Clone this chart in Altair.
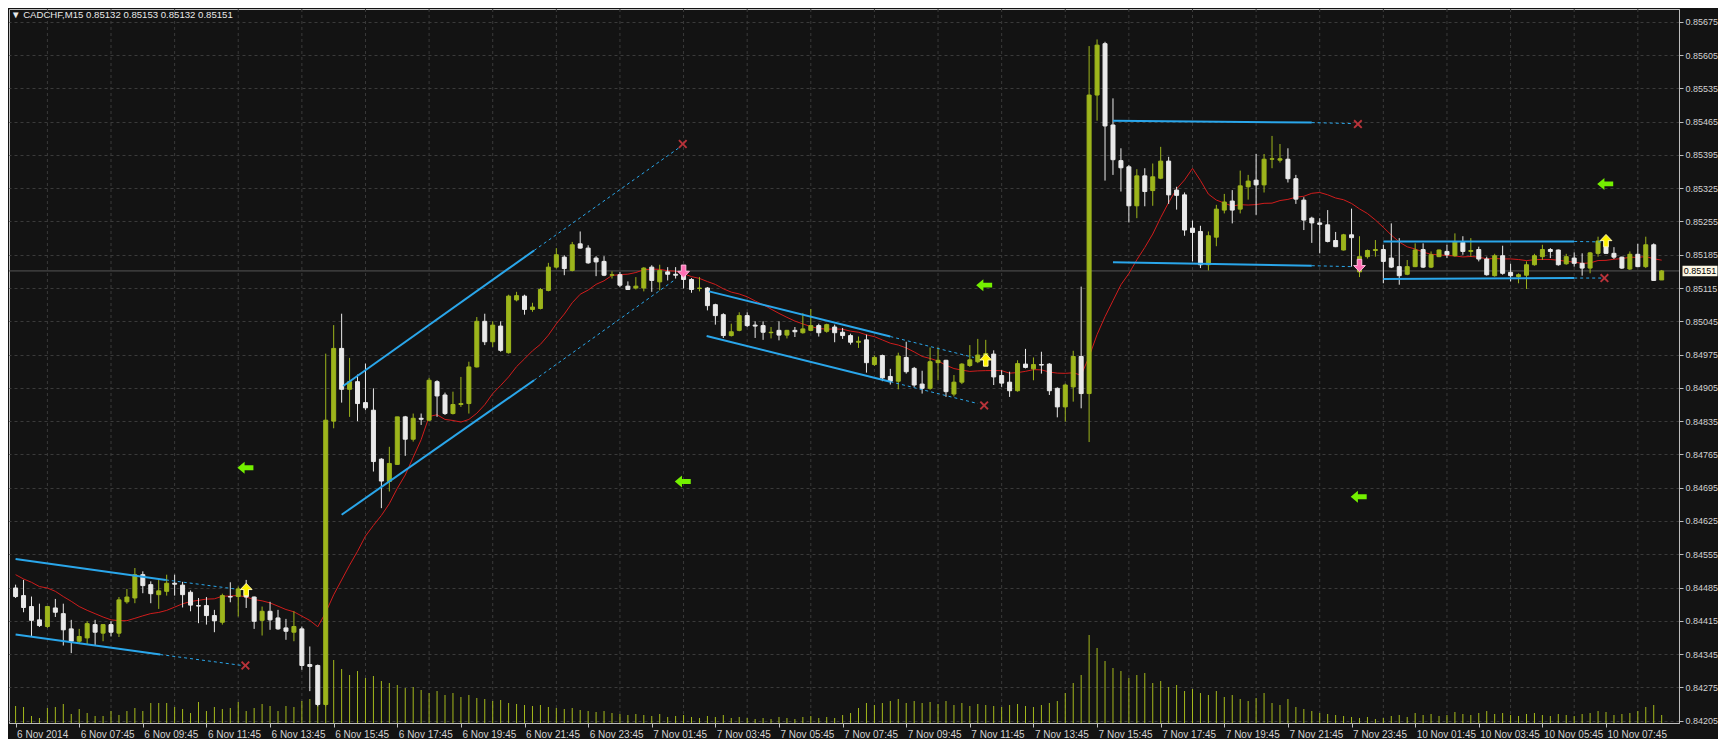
import json
import altair as alt
import pandas as pd

# ---------------- data ----------------
opens = [
    0.84484, 0.84468, 0.84445, 0.84417, 0.84403, 0.84442, 0.84430, 0.84398, 0.84372, 0.84379,
    0.84407, 0.84389, 0.84407, 0.84389, 0.84455, 0.84463, 0.84512, 0.84491, 0.84470, 0.84477,
    0.84494, 0.84490, 0.84475, 0.84447, 0.84447, 0.84426, 0.84412, 0.84466, 0.84466, 0.84482,
    0.84465, 0.84416, 0.84435, 0.84421, 0.84400, 0.84391, 0.84398, 0.84323, 0.84321, 0.84239,
    0.84835, 0.84988, 0.84902, 0.84918, 0.84874, 0.84858, 0.84755, 0.84708, 0.84744, 0.84844,
    0.84797, 0.84841, 0.84837, 0.84918, 0.84890, 0.84851, 0.84870, 0.84872, 0.84949, 0.85045,
    0.85002, 0.85035, 0.84979, 0.85090, 0.85098, 0.85070, 0.85072, 0.85110, 0.85159, 0.85180,
    0.85152, 0.85208, 0.85199, 0.85178, 0.85171, 0.85142, 0.85143, 0.85119, 0.85115, 0.85115,
    0.85159, 0.85128, 0.85149, 0.85144, 0.85142, 0.85133, 0.85114, 0.85115, 0.85080, 0.85059,
    0.85015, 0.85026, 0.85057, 0.85037, 0.85036, 0.85021, 0.85026, 0.85016, 0.85026, 0.85021,
    0.85026, 0.85036, 0.85024, 0.85033, 0.85022, 0.85015, 0.85001, 0.85006, 0.84954, 0.84973,
    0.84929, 0.84919, 0.84969, 0.84946, 0.84913, 0.84904, 0.84958, 0.84963, 0.84892, 0.84917,
    0.84952, 0.84960, 0.84969, 0.84976, 0.84931, 0.84917, 0.84899, 0.84955, 0.84945, 0.84954,
    0.84955, 0.84904, 0.84865, 0.84907, 0.84971, 0.84893, 0.85521, 0.85629, 0.85458, 0.85383,
    0.85370, 0.85288, 0.85351, 0.85320, 0.85346, 0.85382, 0.85321, 0.85311, 0.85241, 0.85234,
    0.85164, 0.85222, 0.85279, 0.85298, 0.85281, 0.85328, 0.85342, 0.85332, 0.85386, 0.85384,
    0.85386, 0.85345, 0.85300, 0.85262, 0.85252, 0.85248, 0.85215, 0.85195, 0.85227, 0.85149,
    0.85181, 0.85194, 0.85196, 0.85178, 0.85160, 0.85144, 0.85160, 0.85196, 0.85159, 0.85181,
    0.85192, 0.85183, 0.85211, 0.85192, 0.85196, 0.85176, 0.85141, 0.85183, 0.85148, 0.85139,
    0.85142, 0.85164, 0.85181, 0.85196, 0.85195, 0.85166, 0.85178, 0.85167, 0.85157, 0.85188,
    0.85220, 0.85188, 0.85180, 0.85155, 0.85186, 0.85160, 0.85206, 0.85132,
]
highs = [
    0.84491, 0.84501, 0.84466, 0.84451, 0.84445, 0.84461, 0.84451, 0.84417, 0.84398, 0.84414,
    0.84417, 0.84407, 0.84414, 0.84465, 0.84482, 0.84526, 0.84519, 0.84498, 0.84503, 0.84512,
    0.84512, 0.84497, 0.84479, 0.84463, 0.84465, 0.84438, 0.84472, 0.84496, 0.84487, 0.84501,
    0.84466, 0.84445, 0.84455, 0.84438, 0.84419, 0.84435, 0.84403, 0.84361, 0.84323, 0.84977,
    0.85037, 0.85061, 0.84968, 0.84933, 0.84956, 0.84904, 0.84757, 0.84781, 0.84844, 0.84846,
    0.84851, 0.84851, 0.84926, 0.84921, 0.84895, 0.84897, 0.84928, 0.84960, 0.85054, 0.85061,
    0.85045, 0.85045, 0.85101, 0.85107, 0.85101, 0.85084, 0.85115, 0.85168, 0.85199, 0.85184,
    0.85212, 0.85234, 0.85205, 0.85182, 0.85182, 0.85150, 0.85149, 0.85129, 0.85138, 0.85159,
    0.85163, 0.85164, 0.85159, 0.85159, 0.85163, 0.85136, 0.85138, 0.85117, 0.85082, 0.85062,
    0.85040, 0.85064, 0.85064, 0.85045, 0.85045, 0.85033, 0.85045, 0.85027, 0.85033, 0.85062,
    0.85071, 0.85040, 0.85040, 0.85038, 0.85031, 0.85019, 0.85013, 0.85017, 0.84973, 0.84975,
    0.84945, 0.84979, 0.85002, 0.84949, 0.84941, 0.84990, 0.84990, 0.84964, 0.84932, 0.84957,
    0.84995, 0.85008, 0.85006, 0.84984, 0.84942, 0.84939, 0.84963, 0.84987, 0.84969, 0.84981,
    0.84957, 0.84906, 0.84914, 0.84983, 0.85118, 0.85624, 0.85638, 0.85633, 0.85514, 0.85409,
    0.85374, 0.85365, 0.85367, 0.85377, 0.85412, 0.85391, 0.85328, 0.85316, 0.85257, 0.85246,
    0.85234, 0.85290, 0.85313, 0.85321, 0.85362, 0.85353, 0.85397, 0.85397, 0.85435, 0.85418,
    0.85409, 0.85353, 0.85306, 0.85265, 0.85262, 0.85279, 0.85233, 0.85229, 0.85282, 0.85224,
    0.85196, 0.85216, 0.85206, 0.85251, 0.85220, 0.85174, 0.85209, 0.85209, 0.85192, 0.85196,
    0.85206, 0.85230, 0.85224, 0.85220, 0.85202, 0.85181, 0.85187, 0.85204, 0.85166, 0.85146,
    0.85171, 0.85187, 0.85206, 0.85199, 0.85196, 0.85187, 0.85190, 0.85188, 0.85191, 0.85223,
    0.85223, 0.85201, 0.85181, 0.85192, 0.85208, 0.85223, 0.85209, 0.85153,
]
lows = [
    0.84463, 0.84433, 0.84382, 0.84402, 0.84400, 0.84423, 0.84363, 0.84347, 0.84368, 0.84365,
    0.84363, 0.84372, 0.84382, 0.84381, 0.84451, 0.84452, 0.84473, 0.84452, 0.84440, 0.84468,
    0.84468, 0.84443, 0.84435, 0.84410, 0.84407, 0.84391, 0.84407, 0.84454, 0.84424, 0.84442,
    0.84398, 0.84384, 0.84396, 0.84396, 0.84375, 0.84372, 0.84312, 0.84267, 0.84235, 0.84235,
    0.84820, 0.84874, 0.84844, 0.84835, 0.84858, 0.84729, 0.84652, 0.84687, 0.84743, 0.84762,
    0.84792, 0.84827, 0.84835, 0.84844, 0.84848, 0.84849, 0.84865, 0.84851, 0.84948, 0.84995,
    0.84991, 0.84981, 0.84977, 0.85087, 0.85059, 0.85065, 0.85070, 0.85108, 0.85156, 0.85142,
    0.85150, 0.85198, 0.85166, 0.85140, 0.85140, 0.85135, 0.85117, 0.85111, 0.85112, 0.85108,
    0.85107, 0.85110, 0.85131, 0.85135, 0.85114, 0.85105, 0.85108, 0.85068, 0.85038, 0.85010,
    0.85013, 0.85024, 0.85033, 0.85010, 0.85006, 0.85009, 0.85005, 0.85009, 0.85012, 0.85019,
    0.85024, 0.85013, 0.85021, 0.85001, 0.85008, 0.84996, 0.84989, 0.84937, 0.84951, 0.84919,
    0.84912, 0.84902, 0.84935, 0.84907, 0.84893, 0.84901, 0.84921, 0.84886, 0.84887, 0.84913,
    0.84949, 0.84957, 0.84953, 0.84911, 0.84907, 0.84886, 0.84897, 0.84946, 0.84921, 0.84935,
    0.84890, 0.84843, 0.84834, 0.84876, 0.84862, 0.84791, 0.85467, 0.85341, 0.85353, 0.85318,
    0.85253, 0.85262, 0.85287, 0.85288, 0.85344, 0.85292, 0.85280, 0.85225, 0.85171, 0.85157,
    0.85152, 0.85203, 0.85272, 0.85251, 0.85272, 0.85301, 0.85269, 0.85316, 0.85367, 0.85379,
    0.85337, 0.85292, 0.85237, 0.85210, 0.85188, 0.85211, 0.85201, 0.85194, 0.85160, 0.85138,
    0.85177, 0.85181, 0.85125, 0.85157, 0.85122, 0.85142, 0.85159, 0.85157, 0.85157, 0.85180,
    0.85178, 0.85181, 0.85185, 0.85181, 0.85171, 0.85141, 0.85139, 0.85143, 0.85129, 0.85125,
    0.85113, 0.85162, 0.85174, 0.85178, 0.85162, 0.85164, 0.85160, 0.85141, 0.85146, 0.85181,
    0.85187, 0.85176, 0.85155, 0.85153, 0.85159, 0.85157, 0.85131, 0.85132,
]
closes = [
    0.84466, 0.84443, 0.84416, 0.84405, 0.84445, 0.84433, 0.84396, 0.84372, 0.84382, 0.84409,
    0.84391, 0.84407, 0.84391, 0.84459, 0.84465, 0.84512, 0.84489, 0.84472, 0.84478, 0.84494,
    0.84492, 0.84470, 0.84448, 0.84446, 0.84426, 0.84415, 0.84468, 0.84465, 0.84482, 0.84465,
    0.84414, 0.84435, 0.84417, 0.84398, 0.84393, 0.84403, 0.84321, 0.84319, 0.84239, 0.84837,
    0.84988, 0.84902, 0.84918, 0.84872, 0.84863, 0.84750, 0.84709, 0.84746, 0.84844, 0.84797,
    0.84841, 0.84839, 0.84921, 0.84888, 0.84851, 0.84870, 0.84872, 0.84949, 0.85045, 0.85002,
    0.85037, 0.84984, 0.85098, 0.85099, 0.85070, 0.85075, 0.85112, 0.85159, 0.85185, 0.85156,
    0.85206, 0.85199, 0.85168, 0.85170, 0.85142, 0.85143, 0.85121, 0.85112, 0.85119, 0.85157,
    0.85131, 0.85152, 0.85144, 0.85142, 0.85133, 0.85112, 0.85115, 0.85078, 0.85057, 0.85015,
    0.85023, 0.85057, 0.85036, 0.85035, 0.85022, 0.85022, 0.85016, 0.85026, 0.85023, 0.85029,
    0.85036, 0.85021, 0.85038, 0.85021, 0.85015, 0.85001, 0.85003, 0.84958, 0.84969, 0.84926,
    0.84919, 0.84972, 0.84939, 0.84911, 0.84904, 0.84960, 0.84963, 0.84897, 0.84917, 0.84955,
    0.84964, 0.84974, 0.84977, 0.84928, 0.84915, 0.84899, 0.84956, 0.84948, 0.84954, 0.84953,
    0.84899, 0.84865, 0.84911, 0.84971, 0.84893, 0.85521, 0.85626, 0.85456, 0.85385, 0.85368,
    0.85288, 0.85351, 0.85318, 0.85349, 0.85382, 0.85311, 0.85310, 0.85237, 0.85232, 0.85164,
    0.85225, 0.85281, 0.85296, 0.85279, 0.85330, 0.85340, 0.85332, 0.85386, 0.85387, 0.85387,
    0.85345, 0.85302, 0.85258, 0.85252, 0.85249, 0.85213, 0.85202, 0.85227, 0.85221, 0.85181,
    0.85194, 0.85196, 0.85171, 0.85159, 0.85141, 0.85160, 0.85195, 0.85159, 0.85185, 0.85195,
    0.85185, 0.85213, 0.85192, 0.85194, 0.85176, 0.85143, 0.85183, 0.85146, 0.85141, 0.85143,
    0.85164, 0.85183, 0.85196, 0.85192, 0.85164, 0.85181, 0.85167, 0.85157, 0.85189, 0.85214,
    0.85188, 0.85180, 0.85157, 0.85186, 0.85160, 0.85206, 0.85131, 0.85151,
]
volumes = [
    170, 160, 70, 50, 150, 160, 190, 90, 140, 100, 70, 70, 120, 80, 120, 150, 120, 200, 200, 200,
    160, 140, 100, 210, 120, 160, 140, 150, 210, 120, 150, 190, 170, 120, 170, 160, 220, 240, 200, 280,
    630, 540, 480, 520, 450, 470, 420, 400, 380, 350, 360, 330, 300, 320, 280, 300, 260, 280, 250, 240,
    220, 230, 200, 190, 180, 170, 180, 160, 150, 140, 150, 130, 120, 110, 120, 100, 90, 80, 90, 80,
    70, 90, 60, 70, 80, 60, 50, 70, 60, 80, 50, 60, 50, 40, 50, 40, 60, 50, 40, 60,
    70, 50, 60, 50, 80, 100, 150, 200, 180, 200, 220, 240, 200, 220, 200, 210, 190, 220, 180, 200,
    170, 190, 180, 170, 160, 180, 190, 170, 160, 180, 200, 220, 300, 400, 480, 880, 750, 620, 550, 520,
    450, 480, 500, 400, 420, 360, 380, 320, 340, 300, 280, 320, 260, 280, 240, 220, 250, 300, 200, 180,
    240, 160, 140, 120, 100, 90, 80, 70, 60, 50, 60, 40, 50, 70, 80, 60, 100, 80, 90, 70,
    80, 110, 90, 80, 100, 120, 90, 100, 80, 70, 90, 100, 80, 70, 90, 80, 70, 90, 100, 120,
    110, 80, 90, 100, 120, 160, 180, 80,
]
# moving average values read for the first bars (window not yet full on screen)
ma_head = [0.84512, 0.84503, 0.84496, 0.84487, 0.84484, 0.84477, 0.84466,
           0.84456, 0.84445, 0.84437, 0.84430, 0.84423, 0.84417]
ma_period = 14

tick_labels = [
    "6 Nov 2014", "6 Nov 07:45", "6 Nov 09:45", "6 Nov 11:45", "6 Nov 13:45", "6 Nov 15:45",
    "6 Nov 17:45", "6 Nov 19:45", "6 Nov 21:45", "6 Nov 23:45", "7 Nov 01:45", "7 Nov 03:45",
    "7 Nov 05:45", "7 Nov 07:45", "7 Nov 09:45", "7 Nov 11:45", "7 Nov 13:45", "7 Nov 15:45",
    "7 Nov 17:45", "7 Nov 19:45", "7 Nov 21:45", "7 Nov 23:45", "10 Nov 01:45", "10 Nov 03:45",
    "10 Nov 05:45", "10 Nov 07:45",
]
tick_index = list(range(0, 8 * len(tick_labels), 8))
price_ticks = [0.84205, 0.84275, 0.84345, 0.84415, 0.84485, 0.84555, 0.84625, 0.84695,
               0.84765, 0.84835, 0.84905, 0.84975, 0.85045, 0.85115, 0.85185, 0.85255,
               0.85325, 0.85395, 0.85465, 0.85535, 0.85605, 0.85675]
bid_price = 0.85151
header_text = "\u25BC CADCHF,M15  0.85132 0.85153 0.85132 0.85151"

# trend channels (bar index, price)
seg_x1 = [0, 0, 41.2, 41.0, 87.2, 86.9, 138, 138, 172, 172,
          18.9, 18.2, 65.2, 65.2, 110, 110, 163, 163, 196, 196]
seg_y1 = [0.84545, 0.84386, 0.84909, 0.84638, 0.85108, 0.85014, 0.85467, 0.85169, 0.85213, 0.85134,
          0.84501, 0.84344, 0.85194, 0.84921, 0.85013, 0.84918, 0.85463, 0.85162, 0.85213, 0.85136]
seg_x2 = [18.9, 18.2, 65.2, 65.2, 110, 110, 163, 163, 196, 196,
          27.6, 28.5, 83.5, 82.7, 120.5, 121, 168, 168, 199.5, 199.5]
seg_y2 = [0.84501, 0.84344, 0.85194, 0.84921, 0.85013, 0.84918, 0.85463, 0.85162, 0.85213, 0.85136,
          0.84482, 0.84321, 0.85411, 0.85130, 0.84969, 0.84872, 0.85461, 0.85160, 0.85212, 0.85136]
seg_kind = ["solid"] * 10 + ["dash"] * 10

cross_x = [28.9, 83.9, 121.8, 168.8, 199.8]
cross_y = [0.84321, 0.85418, 0.84868, 0.85460, 0.85136]
left_arrow_x = [28.9, 83.9, 121.8, 168.9, 199.9]
left_arrow_y = [0.84737, 0.84708, 0.85121, 0.84676, 0.85334]
up_arrow_x = [29, 122, 200]
up_arrow_y = [0.84480, 0.84963, 0.85214]
down_arrow_x = [84, 169]
down_arrow_y = [0.85151, 0.85163]

# ---------------- styling ----------------
BG = "#131313"
GRID = "#3a3a3a"
TXT = "#d2d2d2"
FRAME = "#bdbdbd"
BULL = "#9db51c"
BEAR = "#e9e9e9"
VOL = "#a4b81c"
MA_COL = "#d01c1c"
CHAN = "#2aa6ea"
XMARK = "#b8333a"
FONT = "Liberation Sans"

W, H = 1670, 714
n = len(closes)
df = pd.DataFrame({
    "i": list(range(n)), "o": opens, "h": highs, "l": lows, "c": closes, "v": volumes,
})
df["dir"] = ["up" if c >= o else "down" for o, c in zip(opens, closes)]
df["ma_head"] = ma_head + [None] * (n - len(ma_head))

XDOM = [-0.2, -0.2 + W / 8.0]
YDOM = [0.84200, 0.85702]

labels_js = json.dumps(tick_labels)
x_axis = alt.Axis(
    orient="bottom", values=tick_index,
    labelExpr=f"{labels_js}[round(datum.value / 8)]",
    labelAlign="left", labelOffset=1, labelPadding=2, labelOverlap=False,
    labelBound=False, labelFlush=False,
    labelFont=FONT, labelFontSize=10, labelColor=TXT,
    tickSize=4, tickColor=FRAME, grid=False,
    domain=True, domainColor=FRAME, title=None,
)
y_axis = alt.Axis(
    orient="right", values=price_ticks, format=".5f",
    labelFont=FONT, labelFontSize=9, labelColor=TXT, labelPadding=2,
    tickSize=4, tickColor=FRAME, grid=True, gridColor=GRID, gridDash=[3, 3],
    domain=True, domainColor=FRAME, title=None, labelOverlap=False,
)


def XE(field):
    # every layer carries the same x axis so that the shared axis merges cleanly
    return alt.X(field, scale=alt.Scale(domain=XDOM, nice=False, zero=False), axis=x_axis)


def YE(field, axis=None):
    return alt.Y(field, scale=alt.Scale(domain=YDOM, nice=False, zero=False), axis=axis)


color_scale = alt.Scale(domain=["up", "down"], range=[BULL, BEAR])
base = alt.Chart(df)

# vertical grid: midway between the time labels
vgrid_df = pd.DataFrame({"g": [t + 4 for t in tick_index]})
vgrid = alt.Chart(vgrid_df).mark_rule(color=GRID, strokeWidth=1, strokeDash=[3, 3]).encode(
    x=XE("g:Q"))

vol = base.mark_rule(color=VOL, strokeWidth=1).encode(
    x=XE("i:Q"),
    y=alt.Y("v:Q", scale=alt.Scale(domain=[0, 7140], nice=False), axis=None),
    y2=alt.datum(0),
)

bid_df = pd.DataFrame({"p": [bid_price], "t": [f"{bid_price:.5f}"]})
bid_line = alt.Chart(bid_df).mark_rule(color="#555555", strokeWidth=1).encode(
    y=YE("p:Q", y_axis))

ma_line = base.transform_window(
    ma_calc="mean(c)", frame=[-(ma_period - 1), 0], sort=[alt.SortField("i")]
).transform_calculate(
    ma="datum.i < 13 ? datum.ma_head : datum.ma_calc"
).mark_line(color=MA_COL, strokeWidth=1).encode(x=XE("i:Q"), y=YE("ma:Q"))

wicks = base.mark_rule(strokeWidth=1).encode(
    x=XE("i:Q"), y=YE("l:Q"), y2="h:Q",
    color=alt.Color("dir:N", scale=color_scale, legend=None),
)
bodies = base.mark_bar(size=4, strokeWidth=1).encode(
    x=XE("i:Q"), y=YE("o:Q"), y2="c:Q",
    color=alt.Color("dir:N", scale=color_scale, legend=None),
    stroke=alt.Stroke("dir:N", scale=color_scale, legend=None),
)

seg_df = pd.DataFrame({"x1": seg_x1, "y1": seg_y1, "x2": seg_x2, "y2": seg_y2, "kind": seg_kind})
chan_solid = alt.Chart(seg_df).transform_filter("datum.kind === 'solid'").mark_rule(
    color=CHAN, strokeWidth=2).encode(x=XE("x1:Q"), x2="x2:Q", y=YE("y1:Q"), y2="y2:Q")
chan_dash = alt.Chart(seg_df).transform_filter("datum.kind === 'dash'").mark_rule(
    color=CHAN, strokeWidth=1, strokeDash=[3, 3]).encode(
    x=XE("x1:Q"), x2="x2:Q", y=YE("y1:Q"), y2="y2:Q")

X_PATH = "M-1,-0.7L-0.7,-1L0,-0.3L0.7,-1L1,-0.7L0.3,0L1,0.7L0.7,1L0,0.3L-0.7,1L-1,0.7L-0.3,0Z"
LEFT_PATH = "M-1,0L-0.1,-0.75L-0.1,-0.3L1,-0.3L1,0.3L-0.1,0.3L-0.1,0.75Z"
UP_PATH = "M0,-1L0.9,-0.05L0.35,-0.05L0.35,0.9L-0.35,0.9L-0.35,-0.05L-0.9,-0.05Z"
DOWN_PATH = "M0,1L0.9,0.05L0.35,0.05L0.35,-0.9L-0.35,-0.9L-0.35,0.05L-0.9,0.05Z"


def markers(xv, yv, path, size, fill, stroke=None):
    d = pd.DataFrame({"x": xv, "y": yv})
    kw = dict(shape=path, size=size, filled=True, fill=fill, opacity=1)
    if stroke:
        kw.update(stroke=stroke, strokeWidth=1)
    else:
        kw.update(strokeWidth=0)
    return alt.Chart(d).mark_point(**kw).encode(x=XE("x:Q"), y=YE("y:Q"))


crosses = markers(cross_x, cross_y, X_PATH, 81, XMARK)
lefts = markers(left_arrow_x, left_arrow_y, LEFT_PATH, 256, "#74f000")
ups = markers(up_arrow_x, up_arrow_y, UP_PATH, 170, "#fff200", "#fff7b0")
downs = markers(down_arrow_x, down_arrow_y, DOWN_PATH, 170, "#ff6fb5", "#ffb8dc")

RECT_PATH = "M-1,-0.3L1,-0.3L1,0.3L-1,0.3Z"
bid_box = alt.Chart(bid_df).mark_point(
    shape=RECT_PATH, size=1225, filled=True, fill="#fbf6e4", strokeWidth=0, opacity=1
).encode(x=alt.value(W + 21), y=YE("p:Q"))
bid_text = alt.Chart(bid_df).mark_text(
    font=FONT, fontSize=9, color="#000000", align="center", baseline="middle"
).encode(x=alt.value(W + 21), y=YE("p:Q"), text="t:N")

head_df = pd.DataFrame({"t": [header_text]})
header = alt.Chart(head_df).mark_text(
    font=FONT, fontSize=9.6, color="#e8e8e8", align="left", baseline="middle"
).encode(x=alt.value(2), y=alt.value(6), text="t:N")

chart = alt.layer(
    vgrid, vol, bid_line, ma_line, wicks, bodies, chan_solid, chan_dash,
    crosses, lefts, ups, downs, bid_box, bid_text, header,
).resolve_scale(y="independent").properties(
    width=W, height=H, padding=0, background=BG
).configure_view(stroke=FRAME, strokeWidth=1, fill=BG)

chart.save("out.html", embed_options={"renderer": "svg", "actions": False})
